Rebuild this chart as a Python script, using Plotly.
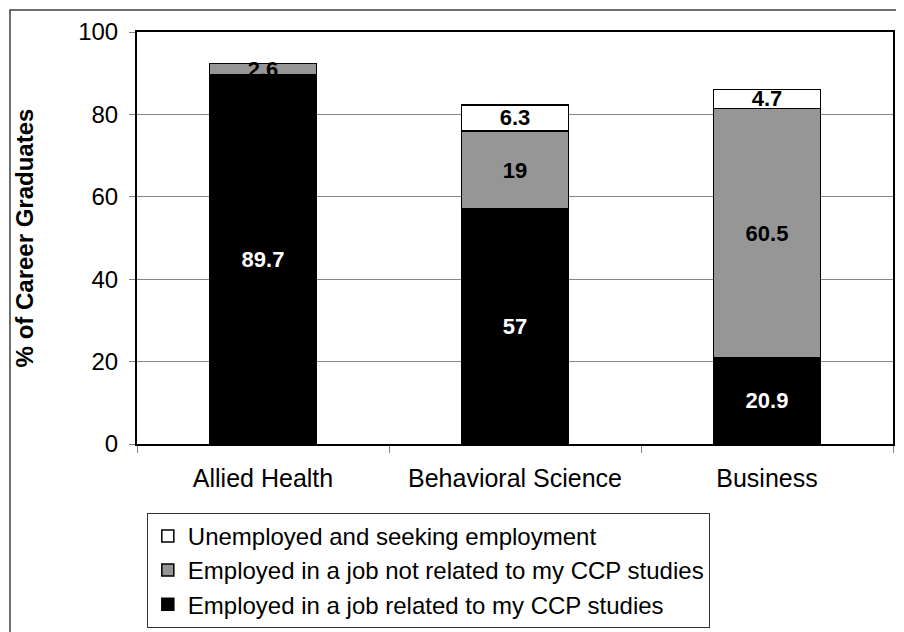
import plotly.graph_objects as go

categories = ["Allied Health", "Behavioral Science", "Business"]
related = [89.7, 57, 20.9]
not_related = [2.6, 19, 60.5]
unemployed = [0, 6.3, 4.7]

FONT = "Arial, Liberation Sans, sans-serif"
LABEL = dict(size=22, family=FONT, weight="bold")

fig = go.Figure()
fig.add_trace(go.Bar(
    name="Employed in a job related to my CCP studies",
    x=categories, y=related,
    marker=dict(color="#000000", line=dict(color="#000000", width=1.5)),
    text=[f"{v:g}" for v in related],
    textposition="inside", insidetextanchor="middle",
    textfont=dict(color="white", **LABEL),
))
fig.add_trace(go.Bar(
    name="Employed in a job not related to my CCP studies",
    x=categories, y=not_related,
    marker=dict(color="#969696", line=dict(color="#000000", width=1.5)),
    text=[f"{v:g}" for v in not_related],
    textposition="inside", insidetextanchor="middle",
    textfont=dict(color="black", **LABEL),
))
fig.add_trace(go.Bar(
    name="Unemployed and seeking employment",
    x=categories, y=unemployed,
    marker=dict(color="#FFFFFF", line=dict(color="#000000", width=1.5)),
    text=[f"{v:g}" if v else "" for v in unemployed],
    textposition="inside", insidetextanchor="middle",
    textfont=dict(color="black", **LABEL),
))

fig.update_layout(
    width=904, height=632,
    barmode="stack", bargap=0.575,
    paper_bgcolor="white", plot_bgcolor="white",
    font=dict(family=FONT, size=22, color="black"),
    margin=dict(l=129, r=19, t=24, b=196, autoexpand=False),
    uniformtext=dict(mode="show", minsize=22),
    showlegend=True,
    legend=dict(
        x=0.013, y=-0.167, xanchor="left", yanchor="top",
        traceorder="reversed",
        font=dict(size=24, family=FONT, color="black"),
        bordercolor="#333333", borderwidth=1,
        bgcolor="white",
        tracegroupgap=0,
    ),
    shapes=[dict(
        type="rect", xref="paper", yref="paper",
        x0=-0.168, x1=1.2, y0=-1, y1=1.0534,
        line=dict(color="#404040", width=1.5), layer="below",
    )],
)
fig.update_yaxes(
    range=[0, 100], dtick=20,
    showgrid=True, gridcolor="#868686", gridwidth=1,
    showline=True, linecolor="black", linewidth=2, mirror=True,
    ticks="outside", ticklen=6, tickcolor="#808080",
    tickfont=dict(size=24), ticklabelstandoff=6,
    title=dict(text="% of Career Graduates",
               font=dict(size=24, weight="bold"), standoff=38),
    zeroline=False,
)
fig.update_xaxes(
    showline=True, linecolor="black", linewidth=2, mirror=True,
    ticks="outside", tickson="boundaries", ticklen=7, tickcolor="#808080",
    tickfont=dict(size=25), ticklabelstandoff=11,
    showgrid=False,
)

fig.write_html("out.html")
